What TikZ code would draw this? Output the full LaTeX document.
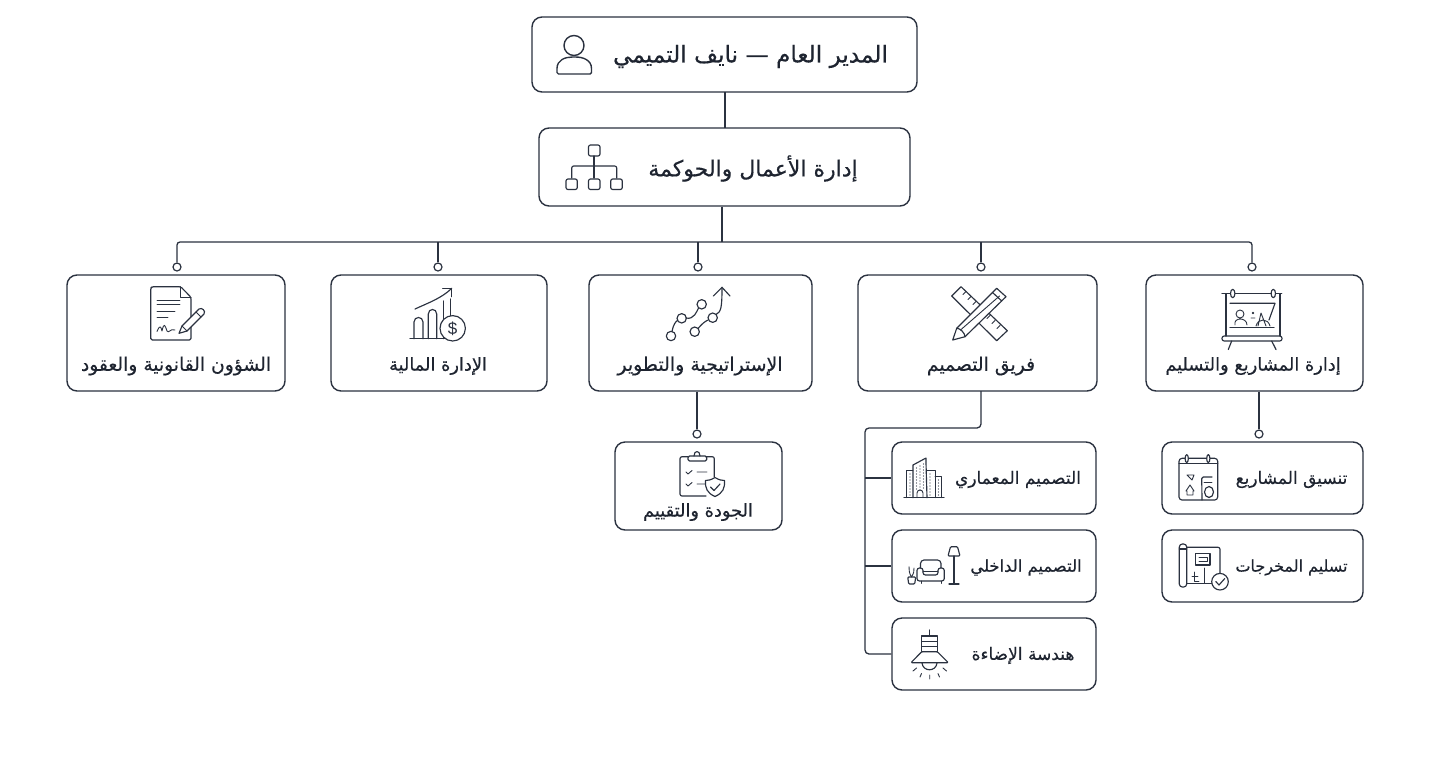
\documentclass[tikz,border=0pt]{standalone}
\usepackage{fontspec}
\setmainfont{DejaVu Sans}
\newfontfamily\arabicfont[Script=Arabic,FakeBold=0.45]{DejaVu Sans}
\TeXXeTstate=1
\definecolor{ink}{HTML}{2B3240}
\definecolor{txt}{HTML}{1E2430}
\tikzset{
  box/.style={draw=ink,line width=1.4pt,rounded corners=10pt,fill=white,inner sep=0pt},
  link/.style={draw=ink,line width=1.3pt},
  dotnode/.style={circle,draw=ink,line width=1.2pt,fill=white,minimum size=8pt,inner sep=0pt},
  lbl/.style={text=txt,inner sep=0pt},
  ic/.style={draw=ink,line width=1.15pt,line join=round,line cap=round},
  fine/.style={draw=ink,line width=.9pt,line cap=round,line join=round},
  speck/.style={draw=ink,line width=1.1pt,line cap=round,dash pattern=on 0pt off 3pt}
}
\newcommand\boxat[5]{\node[box,minimum width=#4pt,minimum height=#5pt] (#1) at (#2,#3) {};}
\newcommand\artext[5]{\node[lbl] (#1) at (#2,#3) {\arabicfont\fontsize{#4pt}{#4pt}\selectfont #5};}
\begin{document}
\begin{tikzpicture}[x=1pt,y=-1pt]
\useasboundingbox[fill=white] (0,0) rectangle (1448,761);
% boxes
\boxat{ceo}{724.5}{54.5}{385}{75}
\boxat{gov}{724.5}{167}{371}{78}
\boxat{legal}{176}{333}{218}{116}
\boxat{fin}{439}{333}{216}{116}
\boxat{strat}{700.5}{333}{223}{116}
\boxat{design}{977.5}{333}{239}{116}
\boxat{proj}{1254.5}{333}{217}{116}
\boxat{quality}{698.5}{486}{167}{88}
\boxat{arch}{994}{478}{204}{72}
\boxat{inter}{994}{566}{204}{72}
\boxat{light}{994}{654}{204}{72}
\boxat{coord}{1262.5}{478}{201}{72}
\boxat{deliv}{1262.5}{566}{201}{72}
% anchors and dots
\coordinate (bus) at (722,242);
\coordinate (dbus) at (865,428);
\node[dotnode] (d1) at (177,267) {};
\node[dotnode] (d2) at (438,267) {};
\node[dotnode] (d3) at (698,267) {};
\node[dotnode] (d4) at (981,267) {};
\node[dotnode] (d5) at (1252,267) {};
\node[dotnode] (d6) at (697,434) {};
\node[dotnode] (d7) at (1259,434) {};
% connectors
\draw[link] (725,92) -- (725,128);
\draw[link] (gov.south -| bus) -- (bus);
\draw[link,rounded corners=3pt] (d1.north) -- (d1 |- bus) -- (d5 |- bus) -- (d5.north);
\draw[link] (d2.north) -- (d2 |- bus);
\draw[link] (d3.north) -- (d3 |- bus);
\draw[link] (d4.north) -- (d4 |- bus);
\draw[link] (d6 |- strat.south) -- (d6.north);
\draw[link] (d7 |- proj.south) -- (d7.north);
\draw[link,rounded corners=4pt] (981,391) -- (981,428) -- (dbus) -- (865,654) -- (light.west);
\draw[link] (865,478) -- (arch.west);
\draw[link] (865,566) -- (inter.west);
% labels
\artext{tceo}{750.5}{56.5}{23.2}{\beginR المدير العام — نايف التميمي\endR}
\artext{tgov}{753}{168.5}{22}{\beginR إدارة الأعمال والحوكمة\endR}
\artext{tlegal}{176}{366}{18.7}{\beginR الشؤون القانونية والعقود\endR}
\artext{tfin}{438}{366}{17.8}{\beginR الإدارة المالية\endR}
\artext{tstrat}{700}{366}{18.9}{\beginR الإستراتيجية والتطوير\endR}
\artext{tdesign}{981}{366}{18.8}{\beginR فريق التصميم\endR}
\artext{tproj}{1253}{366}{17.8}{\beginR إدارة المشاريع والتسليم\endR}
\artext{tqual}{698}{512}{17.8}{\beginR الجودة والتقييم\endR}
\artext{tarch}{1018}{479.5}{17}{\beginR التصميم المعماري\endR}
\artext{tinter}{1026}{567.5}{16.4}{\beginR التصميم الداخلي\endR}
\artext{tlight}{1023}{655.5}{17}{\beginR هندسة الإضاءة\endR}
\artext{tcoord}{1291.5}{479.5}{17}{\beginR تنسيق المشاريع\endR}
\artext{tdeliv}{1291.5}{567.5}{16}{\beginR تسليم المخرجات\endR}
% person icon
\draw[ic,line width=1.4pt] (574,45.5) circle[radius=10];
\draw[ic,line width=1.4pt,rounded corners=1.5pt] (557,74) -- (557,70) .. controls (557,60) and (565,57) .. (574,57) .. controls (583,57) and (591.5,60) .. (591.5,70) -- (591.5,74) -- cycle;
% org icon
\draw[ic,rounded corners=2pt] (588.5,145) rectangle (600,156);
\draw[ic] (594,156) -- (594,178);
\draw[ic,rounded corners=2pt] (571.7,178) -- (571.7,166) -- (616.7,166) -- (616.7,178);
\draw[ic,rounded corners=2pt] (566,179) rectangle (577.3,189.5);
\draw[ic,rounded corners=2pt] (588.5,179) rectangle (600,189.5);
\draw[ic,rounded corners=2pt] (610.7,179) rectangle (622.3,189.5);
% legal icon
\draw[ic,rounded corners=1.5pt] (180.7,286.7) -- (152,286.7) -- (150.7,288) -- (150.7,340) -- (191,340) -- (191,297.3) -- cycle;
\draw[ic] (180.7,286.7) -- (180.7,297.3) -- (191,297.3);
\draw[fine] (157,300) -- (180,300) (157,304.5) -- (180,304.5) (157,311) -- (175,311) (157,317.5) -- (168,317.5);
\draw[fine] (157,331.5) .. controls (160,324) and (161,327) .. (162,331) .. controls (164,322) and (165,325) .. (167,331) .. controls (169,334) and (170,328) .. (175,330);
\draw[ic,fill=white] (179,333.3) -- (182,326) -- (199,309) .. controls (202,307) and (206,311) .. (204,314) -- (187,331) -- cycle;
\draw[fine] (182,326) -- (187,331) (196,312) -- (201,317);
% finance icon
\draw[ic] (410,338.7) -- (453,338.7);
\draw[ic] (414,338.7) -- (414,322) .. controls (414,316) and (423,316) .. (423,322) -- (423,338.7);
\draw[ic] (428.3,338.7) -- (428.3,314) .. controls (428.3,308) and (436.7,308) .. (436.7,314) -- (436.7,338.7);
\draw[ic] (443.3,338.7) -- (443.3,301) (450.7,316) -- (450.7,299);
\draw[ic] (415,309) .. controls (428,303) and (442,298) .. (451.7,288.3);
\draw[ic] (442.7,288.3) -- (451.7,288.3) -- (451.7,296.7);
\draw[ic,fill=white] (452.7,328.3) circle[radius=12.7];
\node[lbl,text=ink] (dollar) at (452.7,328.3) {\fontspec{Liberation Sans}\fontsize{17pt}{17pt}\selectfont\$};
% strategy icon
\draw[ic] (672,331.5) .. controls (673,325) and (676,321) .. (677.5,320.5);
\draw[ic] (686,318) .. controls (694,320) and (697,311) .. (698.5,308);
\draw[ic] (698,328.5) .. controls (702,324) and (704,322) .. (708,320);
\draw[ic] (716,314.5) .. controls (721,312) and (722,308) .. (722,287.5);
\draw[ic] (713.3,296) -- (722,287.3) -- (730,296);
\draw[ic] (671,336) circle[radius=4.7] (681.7,318.3) circle[radius=4.7] (701.7,304.3) circle[radius=4.7] (694.7,331.7) circle[radius=4.7] (712.7,317.7) circle[radius=4.7];
% design icon
\draw[ic,fill=white] (961,286.7) -- (951.7,296) -- (996.7,340.7) -- (1007.3,330.7) -- cycle;
\draw[fine] (966,291.5) -- (963,294.5) (971,296.5) -- (968,299.5) (976,301.5) -- (973,304.5) (981,306.5) -- (978,309.5) (990,315.5) -- (987,318.5) (995,320.5) -- (992,323.5) (1000,325.5) -- (997,328.5);
\draw[ic,fill=white] (952.7,340) -- (956.7,328.3) -- (996.7,288.3) -- (1006,296.7) -- (965,336.7) -- cycle;
\draw[ic] (956.7,328.3) .. controls (960,328) and (965,333) .. (965,336.7);
\draw[fine] (960.5,330) -- (999.5,296);
\draw[ic] (992.5,292.5) -- (1001.8,301);
% project icon
\draw[ic,rounded corners=1.5pt] (1222,293.5) -- (1281.7,293.5);
\draw[ic,fill=white] (1232.7,293.5) ellipse[x radius=2.2,y radius=4.2] (1273.3,293.5) ellipse[x radius=2.2,y radius=4.2];
\draw[ic] (1226,294) -- (1226,336) (1280,294) -- (1280,336);
\draw[ic,rounded corners=2.2pt] (1222,336) rectangle (1282,341);
\draw[ic] (1231.7,341) -- (1228.3,349.5) (1271.7,341) -- (1276,349.5);
\draw[ic] (1230,303.3) -- (1275,303.3) -- (1269,320);
\draw[ic] (1230,327.7) -- (1274,327.7);
\draw[fine] (1240,314) circle[radius=4] (1235,325) .. controls (1233,317) and (1247,317) .. (1247,325);
\draw[fine] (1258,326) -- (1261,313) -- (1266,326) (1256,326) .. controls (1258,318) and (1268,318) .. (1270,326);
\draw[fine] (1253,313) circle[radius=.8] (1251,318) -- (1255,318);
% quality icon
\draw[ic,rounded corners=2pt] (688,456.7) -- (680,456.7) -- (680,496) -- (706,496);
\draw[ic,rounded corners=2pt] (706,456.7) -- (714.3,456.7) -- (714.3,477);
\draw[ic,rounded corners=1.5pt] (688,461) rectangle (706.7,456);
\draw[ic] (694,456) .. controls (694,450) and (700,450) .. (700,456);
\draw[fine] (686,472) -- (688,474) -- (692,470.5) (697,472) -- (707,472);
\draw[fine] (686,484) -- (688,486) -- (692,482.5) (697,484) -- (705,484);
\draw[ic,fill=white] (715,477.5) .. controls (719,480) and (722,480.5) .. (724.5,480.5) .. controls (725,488) and (723,493) .. (715,496.5) .. controls (707,493) and (705,488) .. (705.5,480.5) .. controls (708,480.5) and (711,480) .. (715,477.5) -- cycle;
\draw[ic] (710.5,487) -- (714,490.5) -- (720,484);
% building icon
\draw[ic] (904,497.7) -- (944,497.7);
\draw[ic] (913,497.7) -- (913,465) -- (926,458) -- (926,463) -- (927,497.7);
\draw[fine] (913,470) -- (906.7,470) -- (906.7,497.7);
\draw[fine] (927,470) -- (935,470) -- (935,497.7) (935,476.7) -- (941.7,476.7) -- (941.7,497.7);
\draw[speck] (916.5,468) -- (916.5,490) (920,466) -- (920,490) (923.5,464) -- (923.5,490) (910,474) -- (910,495) (930,474) -- (930,495) (938.5,480) -- (938.5,495);
\draw[fine] (917,497.7) -- (917,493) .. controls (917,489) and (923,489) .. (923,493) -- (923,497.7);
% interior icon
\draw[ic,rounded corners=1pt] (950.5,546.7) -- (957.5,546.7) -- (960,556) -- (948,556) -- cycle;
\draw[ic] (954,556) -- (954,584) (949,584) -- (959,584);
\draw[ic,rounded corners=3.5pt] (920.5,568) -- (920.5,560) -- (941,560) -- (941,568);
\draw[ic,rounded corners=2.5pt] (923,581) -- (917,581) -- (917,568) -- (923,568) -- (923,575) -- (938,575) -- (938,568) -- (944.3,568) -- (944.3,581) -- cycle;
\draw[fine] (923,571) -- (938,571) (921,581) -- (921,583.5) (941,581) -- (941,583.5);
\draw[ic,rounded corners=1pt] (907.7,577) -- (915.7,577) -- (914.7,584) -- (908.7,584) -- cycle;
\draw[fine] (911.5,577) .. controls (909,573) and (909,570) .. (909,566.7) (911.5,577) .. controls (914,573) and (914,571) .. (914,568);
% lamp icon
\draw[ic] (929.5,630) -- (929.5,636);
\draw[ic,fill=white] (921.7,636) rectangle (937.3,651.7);
\draw[fine] (921.7,641) -- (937.3,641) (921.7,646) -- (937.3,646);
\draw[ic,rounded corners=1pt] (921.7,651.7) -- (937.3,651.7) -- (948.3,662.7) -- (911,662.7) -- cycle;
\draw[ic] (922,663) .. controls (923,672) and (936,672) .. (937,663);
\draw[fine] (929.7,675) -- (929.7,679) (921.5,673.5) -- (920,677) (938,673.5) -- (939.5,677) (916.5,668) -- (913,671) (943,668) -- (946.5,671);
% calendar icon
\draw[ic,rounded corners=3pt] (1179,458.3) rectangle (1217.7,500);
\draw[ic] (1179,463.5) -- (1217.7,463.5);
\draw[ic,fill=white] (1186.7,458.6) ellipse[x radius=1.6,y radius=4] (1208.3,458.6) ellipse[x radius=1.6,y radius=4];
\draw[ic,rounded corners=1.5pt] (1202,500) -- (1201.7,477) -- (1212,477);
\draw[fine] (1204,482.5) -- (1212,482.5);
\draw[ic] (1209,492) ellipse[x radius=4.5,y radius=5.5];
\draw[fine] (1187,475) -- (1192,480) -- (1194,475) -- cycle;
\draw[fine] (1186,491) -- (1190,485) -- (1194,491) (1187,491) -- (1187,495) -- (1193,495) -- (1193,491);
% blueprint icon
\draw[ic,rounded corners=2pt] (1186.7,547.3) -- (1220,547.3) -- (1220,574);
\draw[ic,rounded corners=2pt] (1186.7,583.3) -- (1212,583.3);
\draw[ic,rounded corners=3pt] (1179.3,544) rectangle (1186.7,587);
\draw[ic] (1179.3,549) -- (1186.7,549);
\draw[ic] (1195.7,553.5) rectangle (1210,565);
\draw[fine] (1199,557) -- (1207,557) -- (1207,561) -- (1199,561);
\draw[fine] (1204.3,568) -- (1204.3,583) (1194,572) -- (1194,581) -- (1199,581) (1192,576) -- (1198,576);
\draw[ic,fill=white] (1220,581.7) circle[radius=8.3];
\draw[ic] (1215.8,581.5) -- (1219,585) -- (1224.8,578.5);
\end{tikzpicture}
\end{document}
